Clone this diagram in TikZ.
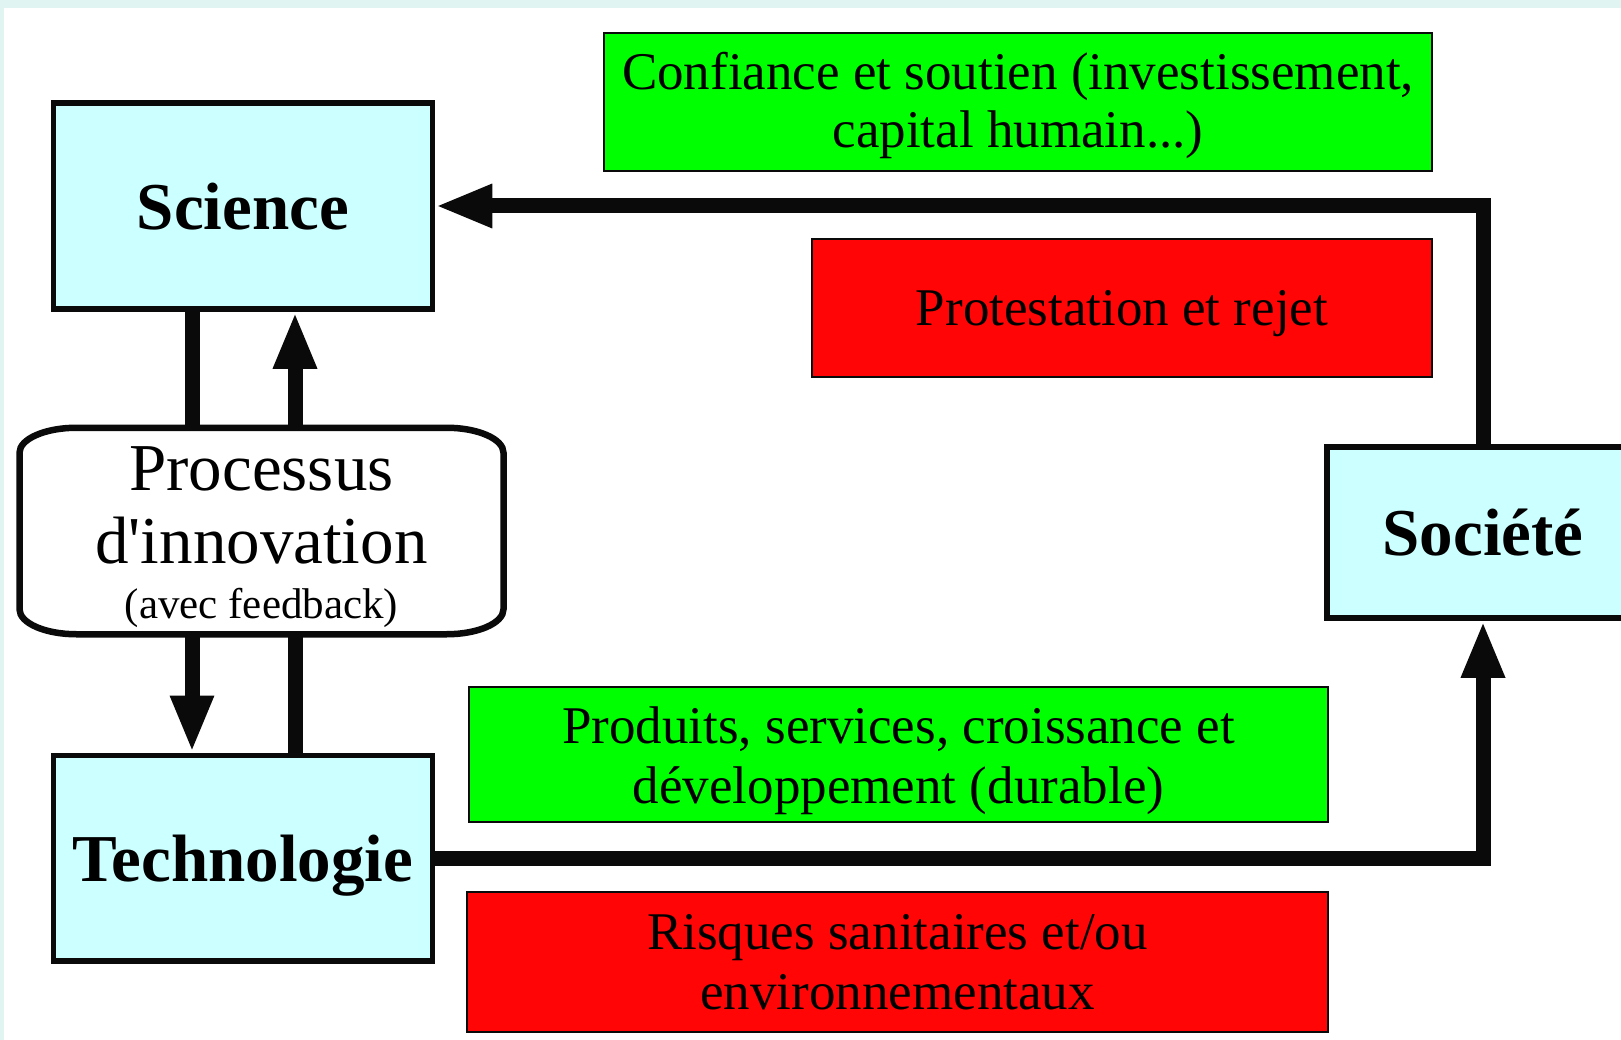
\documentclass[tikz,border=0pt]{standalone}
\usepackage{fontspec}
\setmainfont{Liberation Serif}
\usetikzlibrary{arrows.meta,calc}
\definecolor{bgteal}{HTML}{E0F5F1}
\definecolor{boxcyan}{HTML}{CCFFFF}
\definecolor{boxgreen}{HTML}{00FF00}
\definecolor{boxred}{HTML}{FF0505}
\definecolor{edge}{HTML}{0A0A0A}
\begin{document}
\begin{tikzpicture}[x=1pt,y=1pt,
  mainbox/.style={draw=edge, fill=boxcyan, line width=5.5pt, rectangle, inner sep=0pt,
    font=\fontsize{67}{73}\selectfont\bfseries, text depth=0pt},
  infobox/.style={draw=edge, line width=1.6pt, rectangle, inner sep=0pt, align=center,
    font=\fontsize{53}{60}\selectfont},
  procbox/.style={rectangle, inner sep=0pt, outer sep=0pt, align=center,
    font=\fontsize{67}{73}\selectfont},
  conn/.style={draw=edge, line width=15pt},
  arr/.style={conn, -{Triangle[width=40pt,length=57pt]}},
]
\useasboundingbox (0,0) rectangle (1621,-1040);
\clip (0,0) rectangle (1621,-1040);
\fill[bgteal] (0,0) rectangle (1621,-1040);
\fill[white] (4,-8) rectangle (1621,-1040);

% main boxes
\node[mainbox, minimum width=379pt, minimum height=206pt] (sci) at (243,-206) {Science};
\node[mainbox, minimum width=379pt, minimum height=205.5pt] (tech) at (243,-858) {Technologie};
\node[mainbox, minimum width=312pt, minimum height=171pt] (soc) at (1483,-532.5) {Société};

% process node
\node[procbox, minimum width=484pt, minimum height=206.5pt] (proc) at (261.5,-531)
  {\rule{0pt}{57pt}Processus\\d\textquotesingle innovation\\[-18pt]{\fontsize{43}{55}\selectfont (avec feedback)}};
\draw[line width=6.5pt, draw=edge]
  ($(proc.north west)+(57,0)$) -- ($(proc.north east)+(-57,0)$)
  arc[start angle=90, end angle=0, x radius=57, y radius=25]
  -- ($(proc.south east)+(0,25)$)
  arc[start angle=0, end angle=-90, x radius=57, y radius=25]
  -- ($(proc.south west)+(57,0)$)
  arc[start angle=270, end angle=180, x radius=57, y radius=25]
  -- ($(proc.north west)+(0,-25)$)
  arc[start angle=180, end angle=90, x radius=57, y radius=25] -- cycle;

% info boxes
\node[infobox, fill=boxgreen, minimum width=828pt, minimum height=138pt,
  font=\fontsize{53}{58}\selectfont] (g1) at (1018,-102)
  {\rule{0pt}{45pt}Confiance et soutien (investissement,\\capital humain...)};
\node[draw=edge, line width=1.6pt, rectangle, inner sep=0pt, fill=boxred,
  font=\fontsize{53}{60}\selectfont, text depth=0pt,
  minimum width=620pt, minimum height=138pt] (r1) at (1122,-308) {Protestation et rejet};
\node[infobox, fill=boxgreen, minimum width=859pt, minimum height=135pt] (g2) at (898.5,-754.5)
  {\rule{0pt}{49pt}Produits, services, croissance et\\développement (durable)};
\node[infobox, fill=boxred, minimum width=861pt, minimum height=140pt] (r2) at (897.5,-962)
  {Risques sanitaires et/ou\\environnementaux};

% connectors
\coordinate (xl) at (192,0);
\coordinate (xr) at (295,0);
\draw[conn] (sci.south -| xl) -- (proc.north -| xl);
\draw[arr] (proc.north -| xr) -- (sci.south -| xr);
\draw[arr] (proc.south -| xl) -- (tech.north -| xl);
\draw[conn] (tech.north -| xr) -- (proc.south -| xr);
\draw[arr] (soc.north) |- (sci.east);
\draw[arr] (tech.east) -| (soc.south);
\end{tikzpicture}
\end{document}
